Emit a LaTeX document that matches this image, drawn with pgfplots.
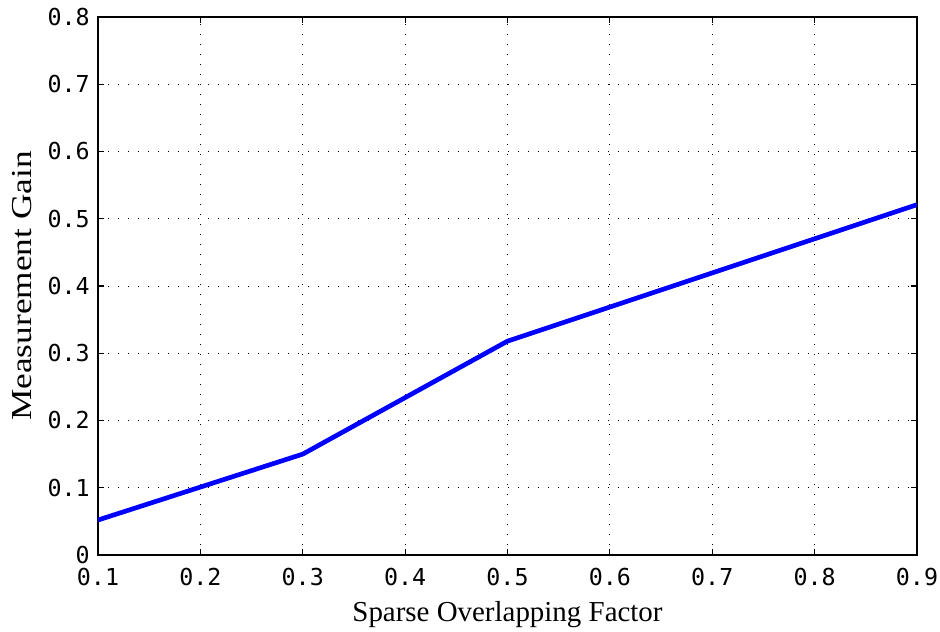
\documentclass[border=0pt]{standalone}
\usepackage{fontspec}
\setmainfont{Liberation Serif}
\setmonofont{DejaVu Sans Mono}
\usepackage{graphicx}
\usepackage{pgfplots}
\pgfplotsset{compat=1.18}
\begin{document}
\begin{tikzpicture}
\useasboundingbox (0,0) rectangle (705pt,474pt);
\begin{axis}[
  at={(73.5pt,57.75pt)}, anchor=south west,
  scale only axis,
  width=614.25pt, height=403.5pt,
  xmin=0.1, xmax=0.9, ymin=0, ymax=0.8,
  xtick={0.1,0.2,...,0.9}, ytick={0,0.1,...,0.8},
  xticklabels={0.1,0.2,0.3,0.4,0.5,0.6,0.7,0.8,0.9},
  yticklabels={0,0.1,0.2,0.3,0.4,0.5,0.6,0.7,0.8},
  tick align=inside, tick pos=both,
  major tick length=4.5pt,
  grid=major,
  major grid style={black, line width=0.75pt, dash pattern=on 0.75pt off 6.75pt},
  axis line style={black, line width=0.8pt},
  tick style={black, line width=0.8pt},
  tick label style={font=\fontsize{17.5}{17.5}\selectfont\ttfamily},
  xticklabel style={inner sep=0pt, anchor=north, yshift=-10pt},
  yticklabel style={inner sep=0pt, anchor=east, xshift=-6pt},
  /pgf/number format/assume math mode=true,
  xlabel={Sparse Overlapping Factor},
  ylabel={\scalebox{1.22}[1]{Measurement Gain}},
  label style={font=\fontsize{21.7}{21.7}\selectfont},
  xlabel style={at={(axis description cs:0.5,0)}, anchor=base, yshift=-50.25pt},
  ylabel style={at={(axis description cs:0,0.5)}, anchor=center, yshift=57pt},
]
\addplot[blue, line width=3.5pt, line join=round] coordinates {
(0.1,0.052) (0.3,0.150) (0.5,0.318) (0.9,0.521)
};
\end{axis}
\end{tikzpicture}
\end{document}
